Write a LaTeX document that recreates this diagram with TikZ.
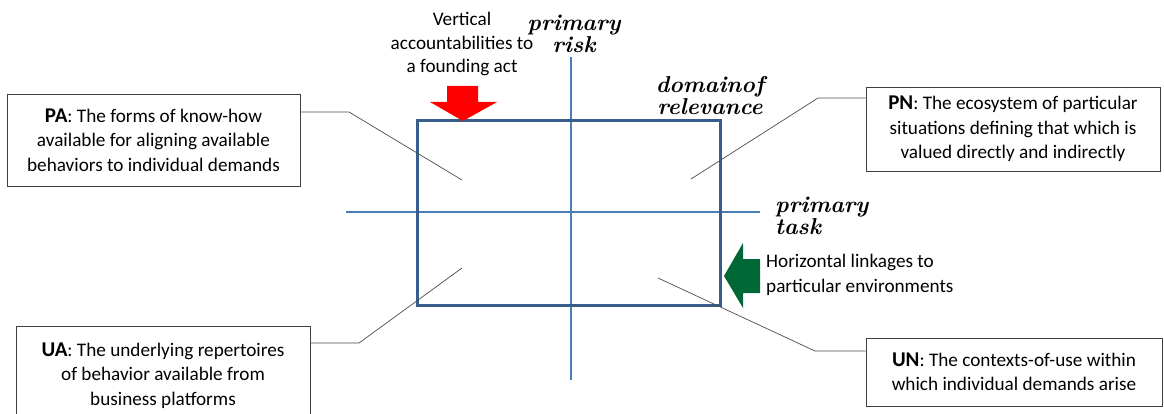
\documentclass[tikz,border=0pt]{standalone}
\usepackage{fontspec}
\newfontfamily\carlito{Carlito}
\newcommand\boxfont{\carlito\fontsize{19.2}{24.5}\selectfont}
\newcommand\boxbf[1]{\textbf{\fontsize{21}{24.5}\selectfont #1}}
\newcommand\handfont{\rmfamily\bfseries\itshape\fontsize{23}{22}\selectfont}
\definecolor{rectblue}{RGB}{56,93,138}
\definecolor{axisblue}{RGB}{74,126,187}
\definecolor{arrred}{RGB}{255,0,0}
\definecolor{arrgreen}{RGB}{0,104,55}
\begin{document}
\begin{tikzpicture}[x=1pt,y=-1pt,
  box/.style={draw=black!75, line width=0.9pt, fill=white, align=center, font=\boxfont, inner sep=0pt},
  lead/.style={draw=black!70, line width=0.7pt},
  hand/.style={font=\handfont, inner sep=0pt},
  lbl/.style={font=\boxfont, inner sep=0pt}]
\useasboundingbox (0,0) rectangle (1164,414);
\clip (0,0) rectangle (1164,414);
% axes
\coordinate (vtop) at (571,57);
\coordinate (vbot) at (571,380);
\coordinate (hl) at (346,212);
\coordinate (hr) at (760,212);
\draw[axisblue, line width=1.1pt] (vtop) -- (vbot);
\draw[axisblue, line width=1.1pt] (hl) -- (hr);
% domain rectangle
\node[draw=rectblue, line width=3pt, minimum width=303pt, minimum height=184pt, inner sep=0pt] (dom) at (568.5,213) {};
% labels in script style
\node[hand, align=center] (risk) at (574,34) {primary\\risk};
\node[hand, align=center] (relev) at (710,96) {domainof\\relevance};
\node[hand, align=left, anchor=west] (task) at (775,216) {primary\\task};
% red arrow
\fill[arrred] (447,86) -- (478,86) -- (478,102) -- (497,102) -- (463,121) -- (430,102) -- (447,102) -- cycle;
% green arrow
\fill[arrgreen] (760,259) -- (760,293) -- (743,293) -- (743,308) -- (724,276) -- (743,243) -- (743,259) -- cycle;
% arrow texts
\node[lbl, align=center, font=\carlito\fontsize{19.2}{23.5}\selectfont] (vert) at (462,44) {Vertical\\accountabilities to\\a founding act};
\node[lbl, align=left, anchor=west] (horiz) at (766,275) {Horizontal linkages to\\particular environments};
% boxes
\node[box, minimum width=293pt, minimum height=92pt] (pa) at (153.5,140) {\boxbf{PA}: The forms of know-how\\available for aligning available\\behaviors to individual demands};
\node[box, minimum width=294pt, minimum height=84pt] (pn) at (1013,129) {\boxbf{PN}: The ecosystem of particular\\situations defining that which is\\valued directly and indirectly};
\node[box, minimum width=294pt, minimum height=99pt] (ua) at (163,375.5) {\boxbf{UA}: The underlying repertoires\\of behavior available from\\business platforms};
\node[box, minimum width=296pt, minimum height=68pt] (un) at (1014,372) {\boxbf{UN}: The contexts-of-use within\\which individual demands arise};
% leader lines
\coordinate (pabend) at (349,112);
\coordinate (paend) at (462,180);
\coordinate (pnbend) at (818,98);
\coordinate (pnend) at (691,179);
\coordinate (uabend) at (359,343);
\coordinate (uaend) at (462,268);
\coordinate (unbend) at (815,351);
\coordinate (unend) at (658,278);
\draw[lead] (pa.east |- pabend) -- (pabend) -- (paend);
\draw[lead] (pn.west |- pnbend) -- (pnbend) -- (pnend);
\draw[lead] (ua.east |- uabend) -- (uabend) -- (uaend);
\draw[lead] (un.west |- unbend) -- (unbend) -- (unend);
\end{tikzpicture}
\end{document}
